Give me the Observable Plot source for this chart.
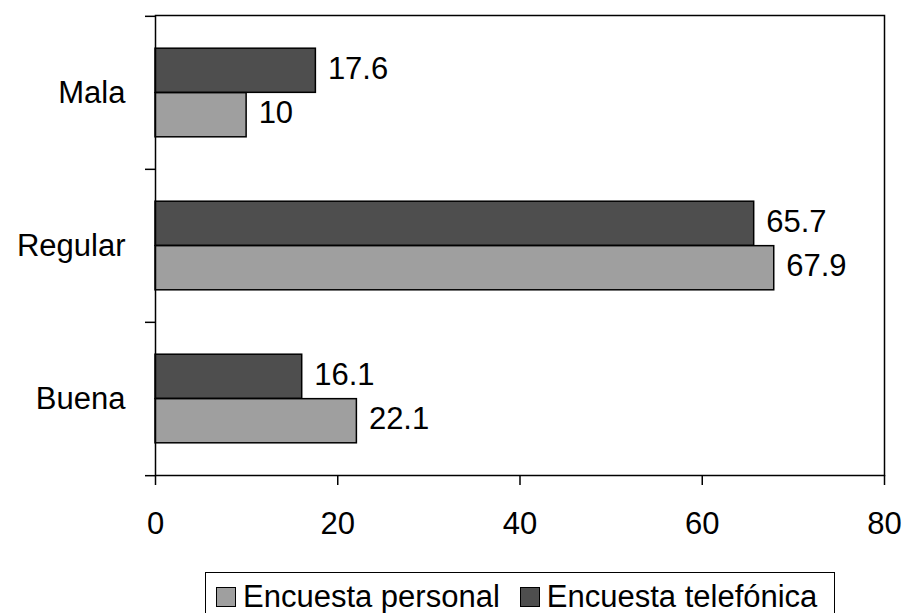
<!DOCTYPE html>
<html>
<head>
<meta charset="utf-8">
<script src="https://cdn.jsdelivr.net/npm/d3@7"></script>
<script src="https://cdn.jsdelivr.net/npm/@observablehq/plot@0.6"></script>
<style>
  html, body { margin: 0; padding: 0; background: #fff; width: 907px; height: 613px; overflow: hidden; }
  #wrap { position: relative; width: 907px; height: 613px; font-family: "Liberation Sans", Arial, sans-serif; }
  #legend {
    position: absolute; left: 205px; top: 572px; width: 630px; height: 50px;
    box-sizing: border-box; border: 1.5px solid #000; background: #fff;
    display: flex; align-items: center; padding-left: 10px;
    font-size: 31px; color: #000; white-space: nowrap;
  }
  #legend .sw { width: 18px; height: 18px; border: 1.5px solid #000; margin-right: 7px; flex: none; }
  #legend .item { display: flex; align-items: center; margin-right: 20px; }
</style>
</head>
<body>
<div id="wrap">
  <div id="chart"></div>
  <div id="legend"></div>
</div>
<script>
const categories = ["Mala", "Regular", "Buena"];
const series = ["Encuesta telefónica", "Encuesta personal"];
const telefonica = [17.6, 65.7, 16.1];
const personal = [10, 67.9, 22.1];
const xTicks = [0, 20, 40, 60, 80];
const colors = ["#4e4e4e", "#9f9f9f"];

const W = 907, H = 555, mT = 15, mB = 80, mL = 155, mR = 23;
const bandH = (H - mT - mB) / categories.length;
const barH = bandH * 0.29;           // each bar's thickness within a category band
const outer = bandH / 2 - barH;      // empty space between band edge and bar pair
const font = "Liberation Sans, Arial, sans-serif";
const fs = 31;

const tel = categories.map((c, i) => ({cat: c, series: series[0], value: telefonica[i]}));
const per = categories.map((c, i) => ({cat: c, series: series[1], value: personal[i]}));

const chart = Plot.plot({
  width: W, height: H,
  marginTop: mT, marginBottom: mB, marginLeft: mL, marginRight: mR,
  style: {fontFamily: font, fontSize: fs + "px", color: "#000", background: "#fff"},
  x: {domain: [0, 80], label: null},
  y: {domain: categories, padding: 0, label: null},
  color: {domain: series, range: colors},
  marks: [
    Plot.barX(tel, {x: "value", y: "cat", fill: "series", stroke: "#000", strokeWidth: 1.5, insetTop: outer, insetBottom: bandH / 2}),
    Plot.barX(per, {x: "value", y: "cat", fill: "series", stroke: "#000", strokeWidth: 1.5, insetTop: bandH / 2, insetBottom: outer}),
    Plot.text(tel, {x: "value", y: "cat", text: d => String(d.value), dx: 12, dy: -barH / 2 - 2, textAnchor: "start", fontSize: fs, fill: "#000"}),
    Plot.text(per, {x: "value", y: "cat", text: d => String(d.value), dx: 12, dy: barH / 2 - 2, textAnchor: "start", fontSize: fs, fill: "#000"}),
    Plot.frame({stroke: "#000", strokeWidth: 1.5}),
    Plot.axisY({anchor: "left", tickSize: 0, tickPadding: 30, fontSize: fs, label: null}),
    Plot.axisY({anchor: "left", tickSize: 10, tickFormat: () => "", dy: -bandH / 2, label: null, strokeWidth: 1.5}),
    Plot.axisY({anchor: "left", ticks: [categories[categories.length - 1]], tickSize: 10, tickFormat: () => "", dy: bandH / 2, label: null, strokeWidth: 1.5}),
    Plot.axisX({anchor: "bottom", ticks: xTicks, tickSize: 10, tickPadding: 26, fontSize: fs, label: null, strokeWidth: 1.5})
  ]
});
document.getElementById("chart").appendChild(chart);

const legend = document.getElementById("legend");
[series[1], series[0]].forEach(s => {
  const item = document.createElement("div");
  item.className = "item";
  const sw = document.createElement("div");
  sw.className = "sw";
  sw.style.background = colors[series.indexOf(s)];
  const t = document.createElement("span");
  t.textContent = s;
  item.appendChild(sw); item.appendChild(t);
  legend.appendChild(item);
});
</script>
</body>
</html>
